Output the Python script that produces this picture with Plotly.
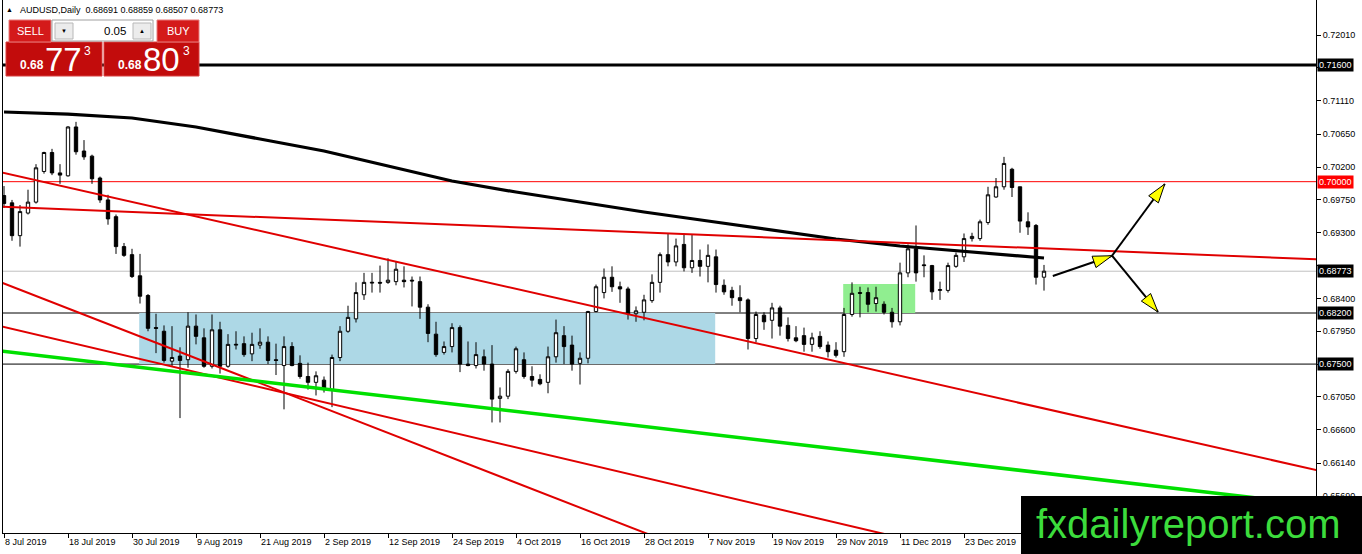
import math
import plotly.graph_objects as go

# ---------------- data ----------------
open_ = [0.6981, 0.6971, 0.6926, 0.6957, 0.6972, 0.7014, 0.7040, 0.7012, 0.7008, 0.7075,
         0.7042, 0.7035, 0.7005, 0.6975, 0.6952, 0.6911, 0.6900, 0.6871, 0.6844, 0.6800,
         0.6795, 0.6754, 0.6761, 0.6756, 0.6802, 0.6786, 0.6747, 0.6797, 0.6747, 0.6776,
         0.6778, 0.6764, 0.6776, 0.6780, 0.6756, 0.6748, 0.6774, 0.6751, 0.6733, 0.6725,
         0.6728, 0.6715, 0.6759, 0.6795, 0.6812, 0.6845, 0.6861, 0.6862, 0.6862, 0.6863,
         0.6865, 0.6865, 0.6863, 0.6828, 0.6791, 0.6766, 0.6774, 0.6800, 0.6750, 0.6748,
         0.6760, 0.6750, 0.6703, 0.6706, 0.6740, 0.6756, 0.6733, 0.6729, 0.6725, 0.6760,
         0.6789, 0.6776, 0.6751, 0.6758, 0.6822, 0.6848, 0.6869, 0.6856, 0.6853, 0.6819,
         0.6821, 0.6837, 0.6862, 0.6900, 0.6890, 0.6914, 0.6882, 0.6892, 0.6884, 0.6897,
         0.6858, 0.6851, 0.6841, 0.6838, 0.6785, 0.6817, 0.6810, 0.6827, 0.6803, 0.6786,
         0.6789, 0.6777, 0.6788, 0.6776, 0.6769, 0.6767, 0.6818, 0.6848, 0.6848, 0.6833,
         0.6832, 0.6821, 0.6808, 0.6875, 0.6908, 0.6886, 0.6885, 0.6851, 0.6851, 0.6884,
         0.6897, 0.6922, 0.6922, 0.6944, 0.6979, 0.6993, 0.7017, 0.6993, 0.6945, 0.6940,
         0.68691]
high = [0.6994, 0.6975, 0.6968, 0.6989, 0.7024, 0.7041, 0.7045, 0.7024, 0.7076, 0.7082,
        0.7057, 0.7037, 0.7007, 0.6982, 0.6955, 0.6916, 0.6908, 0.6901, 0.6846, 0.6819,
        0.6803, 0.6802, 0.6773, 0.6821, 0.6818, 0.6799, 0.6818, 0.6808, 0.6791, 0.6795,
        0.6788, 0.6793, 0.6799, 0.6788, 0.6778, 0.6788, 0.6780, 0.6762, 0.6752, 0.6740,
        0.6733, 0.6763, 0.6802, 0.6830, 0.6862, 0.6875, 0.6875, 0.6885, 0.6895, 0.6890,
        0.6884, 0.6870, 0.6870, 0.6832, 0.6808, 0.6781, 0.6806, 0.6803, 0.6781, 0.6780,
        0.6770, 0.6776, 0.6718, 0.6743, 0.6774, 0.6766, 0.6747, 0.6736, 0.6774, 0.6811,
        0.6802, 0.6789, 0.6766, 0.6823, 0.6859, 0.6881, 0.6884, 0.6863, 0.6856, 0.6829,
        0.6845, 0.6873, 0.6903, 0.6929, 0.6922, 0.6929, 0.6927, 0.6907, 0.6914, 0.6907,
        0.6866, 0.6856, 0.6858, 0.6840, 0.6822, 0.6821, 0.6834, 0.6830, 0.6814, 0.6802,
        0.6800, 0.6793, 0.6795, 0.6781, 0.6780, 0.6827, 0.6862, 0.6856, 0.6855, 0.6856,
        0.6836, 0.6827, 0.6889, 0.6914, 0.6940, 0.6899, 0.6886, 0.6863, 0.6889, 0.6903,
        0.6929, 0.6930, 0.6948, 0.6993, 0.7005, 0.7034, 0.7019, 0.6993, 0.6958, 0.6942,
        0.68859]
low = [0.6964, 0.6919, 0.6911, 0.6955, 0.6970, 0.7011, 0.7009, 0.6997, 0.7007, 0.7037,
       0.7030, 0.6997, 0.6971, 0.6941, 0.6901, 0.6897, 0.6868, 0.6833, 0.6795, 0.6765,
       0.6752, 0.6747, 0.6676, 0.6745, 0.6777, 0.6745, 0.6744, 0.6737, 0.6745, 0.6770,
       0.6760, 0.6754, 0.6771, 0.6750, 0.6735, 0.6688, 0.6747, 0.6730, 0.6715, 0.6707,
       0.6711, 0.6691, 0.6754, 0.6793, 0.6807, 0.6838, 0.6848, 0.6848, 0.6860, 0.6858,
       0.6855, 0.6829, 0.6812, 0.6780, 0.6760, 0.6763, 0.6766, 0.6739, 0.6747, 0.6744,
       0.6741, 0.6670, 0.6670, 0.6702, 0.6737, 0.6730, 0.6719, 0.6721, 0.6710, 0.6752,
       0.6750, 0.6741, 0.6722, 0.6751, 0.6821, 0.6840, 0.6849, 0.6834, 0.6811, 0.6808,
       0.6810, 0.6834, 0.6848, 0.6884, 0.6884, 0.6877, 0.6875, 0.6870, 0.6862, 0.6848,
       0.6845, 0.6830, 0.6821, 0.6770, 0.6780, 0.6797, 0.6785, 0.6789, 0.6781, 0.6780,
       0.6767, 0.6767, 0.6771, 0.6759, 0.6759, 0.6760, 0.6815, 0.6814, 0.6821, 0.6822,
       0.6818, 0.6800, 0.6803, 0.6869, 0.6863, 0.6869, 0.6838, 0.6838, 0.6848, 0.6882,
       0.6890, 0.6918, 0.6919, 0.6941, 0.6978, 0.6989, 0.6979, 0.6930, 0.6927, 0.6859,
       0.68507]
close = [0.6970, 0.6926, 0.6959, 0.6972, 0.7019, 0.7040, 0.7012, 0.7009, 0.7075, 0.7041,
         0.7034, 0.7004, 0.6975, 0.6949, 0.6911, 0.6899, 0.6870, 0.6843, 0.6799, 0.6799,
         0.6755, 0.6759, 0.6755, 0.6802, 0.6788, 0.6747, 0.6797, 0.6747, 0.6777, 0.6777,
         0.6763, 0.6777, 0.6780, 0.6755, 0.6755, 0.6774, 0.6748, 0.6733, 0.6725, 0.6734,
         0.6715, 0.6759, 0.6795, 0.6814, 0.6848, 0.6862, 0.6862, 0.6861, 0.6865, 0.6880,
         0.6863, 0.6864, 0.6828, 0.6792, 0.6763, 0.6774, 0.6800, 0.6750, 0.6748, 0.6763,
         0.6750, 0.6702, 0.6706, 0.6740, 0.6771, 0.6733, 0.6728, 0.6723, 0.6760, 0.6793,
         0.6774, 0.6750, 0.6758, 0.6822, 0.6856, 0.6869, 0.6856, 0.6853, 0.6819, 0.6823,
         0.6838, 0.6862, 0.6900, 0.6890, 0.6912, 0.6882, 0.6892, 0.6884, 0.6899, 0.6859,
         0.6849, 0.6841, 0.6837, 0.6785, 0.6818, 0.6808, 0.6827, 0.6802, 0.6785, 0.6782,
         0.6777, 0.6786, 0.6774, 0.6767, 0.6762, 0.6818, 0.6847, 0.6847, 0.6832, 0.6841,
         0.6821, 0.6808, 0.6875, 0.6908, 0.6875, 0.6885, 0.6849, 0.6852, 0.6885, 0.6899,
         0.6922, 0.6925, 0.6945, 0.6982, 0.6993, 0.7025, 0.6992, 0.6946, 0.6938, 0.6869,
         0.68773]

tick_index = [0, 8, 16, 24, 32, 40, 48, 56, 64, 72, 80, 88, 96, 104, 112, 120]
tick_labels = ["8 Jul 2019", "18 Jul 2019", "30 Jul 2019", "9 Aug 2019", "21 Aug 2019",
               "2 Sep 2019", "12 Sep 2019", "24 Sep 2019", "4 Oct 2019", "16 Oct 2019",
               "28 Oct 2019", "7 Nov 2019", "19 Nov 2019", "29 Nov 2019", "11 Dec 2019",
               "23 Dec 2019"]
price_ticks = [0.72010, 0.71560, 0.71110, 0.70650, 0.70200, 0.69750, 0.69300, 0.68850,
               0.68400, 0.67950, 0.67500, 0.67050, 0.66600, 0.66140, 0.65690]
# tick labels hidden behind the price tags in the picture
covered_ticks = [0.71560, 0.68850, 0.67500]

ma_bars = [0, 8, 16, 24, 32, 40, 48, 56, 64, 72, 80, 88, 96, 104, 112, 120, 128, 130]
ma_values = [0.70955, 0.70927, 0.70873, 0.70749, 0.70585, 0.70420, 0.70215, 0.70009,
             0.69858, 0.69721, 0.69584, 0.69461, 0.69338, 0.69214, 0.69118, 0.69050,
             0.68981, 0.68954]

levels = [0.71600, 0.70000, 0.68773, 0.68200, 0.67500]
level_colors = ["black", "#ff0000", "#c0c0c0", "black", "black"]
level_widths = [3, 1, 1, 1, 1]
level_tag_bg = ["black", "#ff0000", "black", "black", "black"]

red_trend_x = [[-1, 165], [-1, 165], [-1, 85], [-1, 120]]
red_trend_y = [[0.70145, 0.66023], [0.69660, 0.68931], [0.68647, 0.64978], [0.68034, 0.64915]]
green_trend_x = [-1, 165]
green_trend_y = [0.67686, 0.65556]

blue_zone = dict(x0=16.9, x1=88.9, y0=0.67500, y1=0.68200)
green_zone = dict(x0=104.9, x1=113.9, y0=0.68200, y1=0.68597)

arrow_start = [(131.1, 0.68707), (138.5, 0.68985), (138.5, 0.68985)]
arrow_tip = [(138.5, 0.68985), (145.1, 0.69968), (144.25, 0.68214)]

title_text = "AUDUSD,Daily  0.68691 0.68859 0.68507 0.68773"

# ---------------- geometry ----------------
W, H = 1362, 554
ML, MR, MT, MB = 3, 46, 0, 21
PW, PH = W - ML - MR, H - MT - MB
XR = [-0.125, 164.0]
YR = [0.65185, 0.72490]
SX = PW / (XR[1] - XR[0])
SY = PH / (YR[1] - YR[0])


def fx(px):
    return (px - ML) / PW


def fy(py):
    return 1 - (py - MT) / PH


FONT = "Liberation Sans, Arial, sans-serif"
bars = list(range(len(close)))

fig = go.Figure()

fig.add_trace(go.Candlestick(
    x=bars, open=open_, high=high, low=low, close=close,
    increasing=dict(line=dict(color="black", width=1), fillcolor="white"),
    decreasing=dict(line=dict(color="black", width=1), fillcolor="black"),
    whiskerwidth=0, hoverinfo="skip", showlegend=False))

fig.add_trace(go.Scatter(x=ma_bars, y=ma_values, mode="lines",
                         line=dict(color="black", width=3.2), hoverinfo="skip", showlegend=False))

for xs, ys in zip(red_trend_x, red_trend_y):
    fig.add_trace(go.Scatter(x=xs, y=ys, mode="lines", line=dict(color="#e00000", width=2),
                             hoverinfo="skip", showlegend=False))

fig.add_trace(go.Scatter(x=green_trend_x, y=green_trend_y, mode="lines",
                         line=dict(color="#00e000", width=3.5), hoverinfo="skip", showlegend=False))

for s, t in zip(arrow_start, arrow_tip):
    fig.add_trace(go.Scatter(x=[s[0], t[0]], y=[s[1], t[1]], mode="lines",
                             line=dict(color="black", width=2), hoverinfo="skip", showlegend=False))
    du = (t[0] - s[0]) * SX
    dv = (t[1] - s[1]) * SY
    n = math.hypot(du, dv)
    du, dv = du / n, dv / n
    L, Wd = 19, 6
    tu, tv = t[0] * SX, t[1] * SY
    bu, bv = tu - L * du, tv - L * dv
    nu, nv = -dv, du
    pts = [(tu, tv), (bu + Wd * nu, bv + Wd * nv), (bu - Wd * nu, bv - Wd * nv), (tu, tv)]
    fig.add_trace(go.Scatter(x=[p[0] / SX for p in pts], y=[p[1] / SY for p in pts],
                             mode="lines", fill="toself", fillcolor="#ffff00",
                             line=dict(color="black", width=1), hoverinfo="skip", showlegend=False))

shapes = []
shapes.append(dict(type="rect", xref="x", yref="y", layer="below", line=dict(width=0),
                   fillcolor="#add8e6", **blue_zone))
shapes.append(dict(type="rect", xref="x", yref="y", layer="below", line=dict(width=0),
                   fillcolor="#90ee90", **green_zone))
for lv, c, w in zip(levels, level_colors, level_widths):
    shapes.append(dict(type="line", xref="paper", yref="y", x0=0, x1=1, y0=lv, y1=lv,
                       layer="below", line=dict(color=c, width=w)))


# trading panel (layout only)
def prect(x0, y0, x1, y1, fill, line=None, lw=0):
    return dict(type="rect", xref="paper", yref="paper", layer="above",
                x0=fx(x0), x1=fx(x1), y0=fy(y1), y1=fy(y0), fillcolor=fill,
                line=dict(color=line or fill, width=lw))


shapes += [
    prect(6, 42, 102, 76, "#c20c0c", "#d84040", 1),
    prect(104, 42, 199, 76, "#c20c0c", "#d84040", 1),
    prect(9, 20, 51, 42, "#d41a1a", "#e87a7a", 1),
    prect(157, 20, 199, 42, "#d41a1a", "#e87a7a", 1),
    prect(52, 20, 153, 41, "white", "#a0a0a0", 1),
    prect(55, 23, 73, 39, "#ececec", "#b8b8b8", 1),
    prect(133, 23, 151, 39, "#ececec", "#b8b8b8", 1),
    prect(1021, 496, 1366, 558, "black"),
]

ann = []
for lv, bg in zip(levels, level_tag_bg):
    ann.append(dict(xref="paper", yref="y", x=1, y=lv, xanchor="left", yanchor="middle",
                    xshift=1, text=f"{lv:.5f}", showarrow=False, bgcolor=bg, borderpad=1,
                    font=dict(family=FONT, size=9, color="white")))


def ptext(x, y, text, size, color="white", anchor="center", bold=False):
    if bold:
        text = f"<b>{text}</b>"
    return dict(xref="paper", yref="paper", x=fx(x), y=fy(y), xanchor=anchor,
                yanchor="middle", text=text, showarrow=False,
                font=dict(family=FONT, size=size, color=color))


ann += [
    ptext(4, 10, "▲", 7, "black", "left"),
    ptext(18, 10, title_text, 9, "black", "left"),
    ptext(30, 31, "SELL", 11),
    ptext(178, 31, "BUY", 11),
    ptext(64, 31, "▼", 6, "black"),
    ptext(142, 31, "▲", 6, "black"),
    ptext(128, 31, "0.05", 11.5, "black", "right"),
    ptext(32, 65, "0.68", 12, bold=True),
    ptext(63, 59, "77", 33),
    ptext(87, 51, "3", 12),
    ptext(130, 65, "0.68", 12, bold=True),
    ptext(161, 59, "80", 33),
    ptext(186, 51, "3", 12),
    ptext(1188, 524, "fxdailyreport.com", 40, "#3cdc3c"),
]

fig.update_layout(
    width=W, height=H, margin=dict(l=ML, r=MR, t=MT, b=MB),
    paper_bgcolor="white", plot_bgcolor="white", showlegend=False,
    boxgap=0.4, shapes=shapes, annotations=ann,
    font=dict(family=FONT, size=9, color="black"),
    xaxis=dict(range=XR, tickvals=tick_index, ticktext=tick_labels, ticks="outside",
               ticklen=4, tickcolor="black", ticklabelposition="outside right",
               showline=True, linecolor="black", linewidth=1, showgrid=False,
               zeroline=False, rangeslider=dict(visible=False),
               tickfont=dict(family=FONT, size=9, color="black")),
    yaxis=dict(range=YR, side="right", tickvals=price_ticks,
               ticktext=["" if v in covered_ticks else f"{v:.5f}" for v in price_ticks],
               ticks="outside", ticklen=4,
               tickcolor="black", showline=True, linecolor="black", linewidth=1,
               mirror=True, showgrid=False, zeroline=False,
               tickfont=dict(family=FONT, size=9, color="black")),
)

fig.write_html("out.html", config={"displayModeBar": False},
               post_script="document.body.style.margin='0';document.body.style.overflow='hidden';")
